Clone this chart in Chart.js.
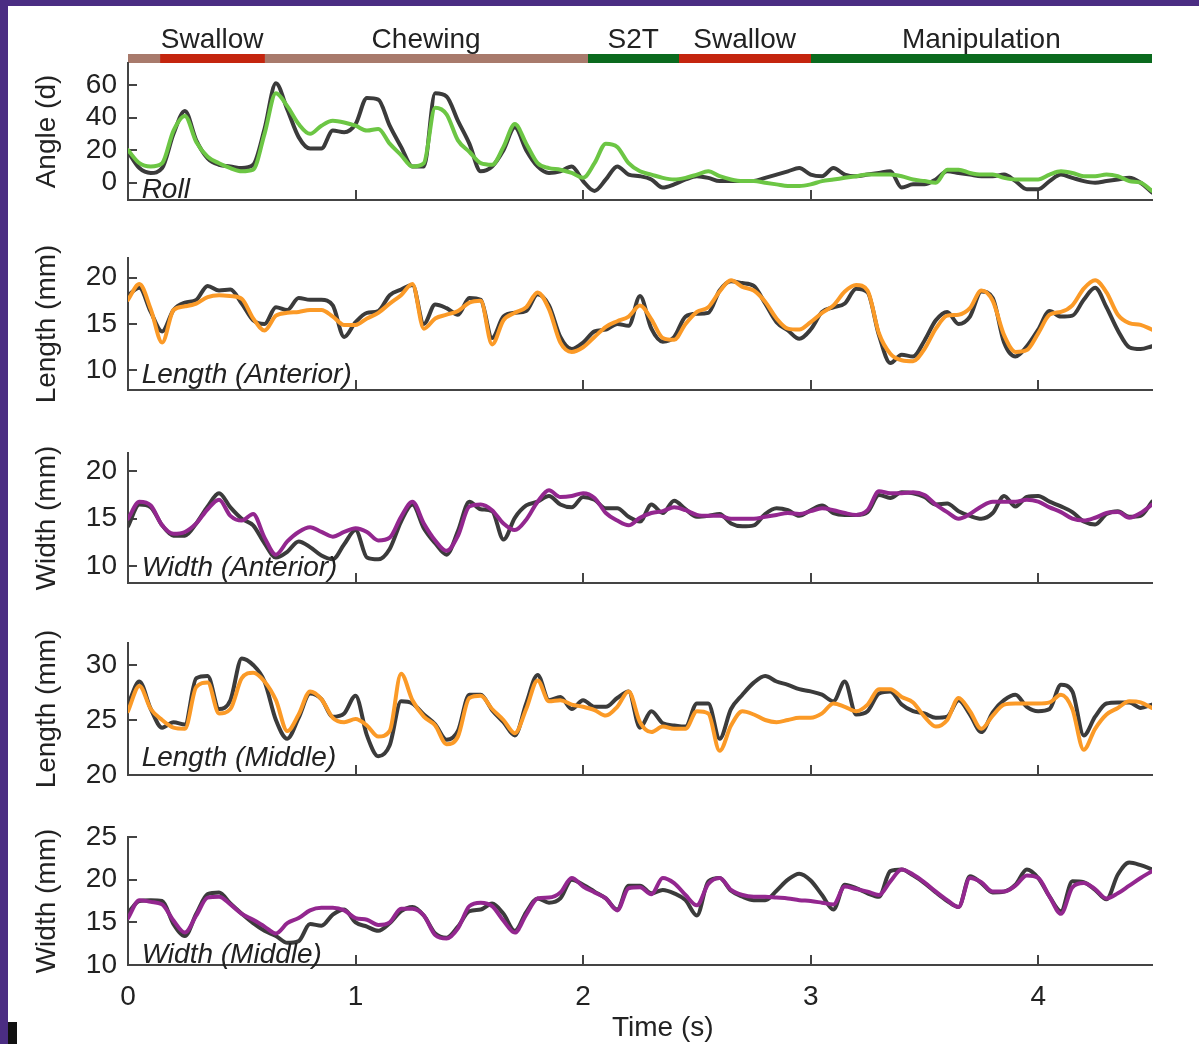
<!DOCTYPE html>
<html>
<head>
<meta charset="utf-8">
<script src="https://cdn.jsdelivr.net/npm/chart.js@4.4.1/dist/chart.umd.min.js"></script>
<style>
  html, body { margin: 0; padding: 0; background: #fff; }
  body { width: 1199px; height: 1044px; position: relative; overflow: hidden; }
  canvas { position: absolute; left: 0; }
  .frame { position: absolute; background: #4b2d83; }
</style>
</head>
<body>
<canvas id="phases" width="1199" height="70" style="top:0"></canvas>
<canvas id="roll"></canvas>
<canvas id="lenAnt"></canvas>
<canvas id="widAnt"></canvas>
<canvas id="lenMid"></canvas>
<canvas id="widMid"></canvas>
<div class="frame" style="left:0;top:0;width:1199px;height:6px"></div>
<div class="frame" style="left:0;top:0;width:8px;height:1044px"></div>
<div style="position:absolute;left:8px;top:1022px;width:9px;height:22px;background:#111"></div>
<script>
Chart.defaults.font.family = "'Liberation Sans', Arial, sans-serif";
Chart.defaults.font.size = 28;
Chart.defaults.color = '#222';

// time axis (s), one sample every 0.05 s
const times = Array.from({length: 91}, (_, i) => Math.round(i * 5) / 100);
const timeTicks = [0, 1, 2, 3, 4];

// feeding phases on top
const phaseNames = ['', 'Swallow', 'Chewing', 'S2T', 'Swallow', 'Manipulation'];
const phaseStart = [0, 0.14, 0.60, 2.02, 2.42, 3.00];
const phaseEnd = [0.14, 0.60, 2.02, 2.42, 3.00, 4.50];

// Roll angle (d)
const rollTicks = [0, 20, 40, 60];
const rollRef = [
  19, 9, 6, 9, 30, 44, 26, 15, 11, 10,
  9, 11, 33, 61, 45, 28, 21, 21, 32, 31,
  36, 52, 51, 35, 22, 10, 10, 55, 53, 38,
  24, 7, 10, 20, 34, 20, 10, 6, 7, 10,
  1, -5, 2, 10, 5, 4, 2, -3, -1, 2,
  4, 3, 1, 1, 1, 1, 3, 5, 7, 9,
  5, 4, 9, 5, 4, 5, 6, 7, -3, -1,
  -1, 2, 7, 6, 5, 4, 4, 5, 1, -4,
  -4, 1, 5, 3, 1, 0, 1, 2, 3, 0,
  -6];
const rollEst = [
  20, 12, 10, 12, 32, 41, 25, 16, 12, 9,
  7, 8, 30, 55, 47, 36, 30, 35, 38, 37,
  35, 32, 33, 24, 17, 10, 12, 46, 42, 26,
  19, 12, 11, 22, 36, 24, 12, 9, 8, 6,
  3, 12, 24, 22, 12, 7, 5, 3, 2, 3,
  5, 7, 4, 2, 1, 1, 0, -1, -2, -2,
  -1, 1, 2, 3, 4, 5, 5, 5, 4, 2,
  1, 0, 8, 8, 6, 5, 5, 3, 2, 2,
  2, 5, 7, 6, 4, 4, 5, 4, 1, 0,
  -5];

// Length (Anterior), mm
const lenAntTicks = [10, 15, 20];
const lenAntRef = [
  18.1, 18.9, 16.3, 14.2, 16.5, 17.3, 17.6, 19.1, 18.6, 18.7,
  17.2, 15.4, 15.0, 16.8, 16.5, 17.8, 17.6, 17.6, 17.0, 13.6,
  15.2, 16.2, 16.4, 18.1, 18.7, 19.2, 15.0, 17.1, 16.7, 16.0,
  17.8, 17.6, 13.5, 15.8, 16.2, 16.4, 18.2, 17.0, 13.6, 12.3,
  13.0, 14.2, 14.4, 15.0, 14.8, 18.0, 14.5, 13.1, 13.6, 15.8,
  16.1, 16.2, 18.6, 19.6, 19.4, 19.1, 17.2, 15.2, 14.3, 13.4,
  14.4, 16.3, 16.8, 17.2, 18.8, 18.4, 13.8, 10.8, 11.7, 11.5,
  13.2, 15.4, 16.3, 15.0, 15.8, 18.5, 17.8, 13.0, 11.5, 12.6,
  14.4, 16.4, 15.8, 15.9, 17.6, 18.9, 16.8, 14.3, 12.5, 12.3,
  12.6];
const lenAntEst = [
  17.6, 19.3, 16.6, 13.0, 16.5, 16.9, 17.2, 17.9, 18.1, 18.0,
  17.7, 15.6, 14.3, 15.9, 16.2, 16.3, 16.5, 16.5, 15.8, 14.9,
  14.9, 15.6, 16.2, 17.2, 18.1, 19.3, 14.5, 15.6, 16.0, 16.4,
  17.3, 17.5, 12.8, 15.4, 16.2, 16.8, 18.4, 16.6, 13.0, 12.0,
  12.5, 13.6, 14.7, 15.3, 15.8, 17.0, 15.5, 13.5, 13.3, 15.0,
  16.3, 16.8, 18.5, 19.7, 19.0, 18.6, 17.4, 15.6, 14.5, 14.4,
  15.2, 16.2, 17.0, 18.5, 19.2, 18.6, 14.0, 11.8, 11.1, 11.0,
  12.3, 14.5, 15.9, 16.0, 16.7, 18.6, 17.5, 13.8, 12.0, 12.2,
  14.0, 16.0, 16.3, 17.0, 18.8, 19.7, 18.4, 16.0, 15.1, 14.9,
  14.4];

// Width (Anterior), mm
const widAntTicks = [10, 15, 20];
const widAntRef = [
  14.2, 16.5, 16.2, 14.3, 13.2, 13.2, 14.5, 16.3, 17.7, 16.2,
  15.0, 14.3, 12.4, 10.9, 11.5, 12.6, 12.0, 11.1, 10.7, 12.3,
  13.8, 10.9, 10.7, 11.8, 14.7, 16.5, 14.0, 12.4, 11.2, 13.7,
  16.8, 16.0, 15.8, 12.8, 15.1, 16.4, 16.8, 17.4, 16.5, 16.2,
  17.3, 17.0, 16.1, 16.1, 15.2, 14.7, 16.5, 15.6, 16.9, 16.0,
  15.2, 15.3, 15.5, 14.5, 14.2, 14.3, 15.5, 16.1, 15.9, 15.3,
  15.9, 16.4, 15.6, 15.4, 15.4, 15.7, 17.5, 17.2, 17.8, 17.7,
  17.3, 16.5, 16.6, 15.8, 15.3, 15.0, 15.6, 17.4, 16.3, 17.3,
  17.4, 16.8, 16.3, 15.7, 14.7, 14.4, 15.5, 15.8, 15.2, 15.3,
  16.8];
const widAntEst = [
  15.0, 16.8, 16.4, 14.3, 13.4, 13.6, 14.5, 16.0, 17.0, 15.3,
  14.8, 15.5, 13.0, 11.2, 12.6, 13.6, 14.1, 13.6, 13.1, 13.6,
  14.0, 13.6, 12.7, 13.0, 15.2, 16.8, 14.5, 12.7, 11.6, 13.2,
  16.3, 16.5, 15.9, 14.5, 13.8, 14.9, 16.8, 18.0, 17.3, 17.4,
  17.7, 17.2, 15.6, 14.8, 14.3, 15.1, 15.6, 15.8, 16.2, 15.9,
  15.4, 15.3, 15.3, 15.0, 15.0, 15.0, 15.2, 15.4, 15.6, 15.5,
  15.8, 16.1, 15.9, 15.6, 15.4, 15.9, 17.9, 17.7, 17.7, 17.8,
  17.5, 16.5, 15.7, 15.0, 15.5, 16.3, 16.8, 16.8, 16.8, 17.0,
  16.8, 16.2, 15.7, 15.0, 14.8, 15.1, 15.6, 15.7, 15.1, 15.6,
  16.5];

// Length (Middle), mm
const lenMidTicks = [20, 25, 30];
const lenMidRef = [
  26.4, 28.5, 26.0, 24.3, 24.8, 24.6, 28.8, 29.0, 26.0, 26.8,
  30.6, 30.0, 28.5, 25.0, 23.3, 25.2, 27.4, 26.9, 25.3, 25.6,
  27.2, 23.6, 21.7, 22.7, 26.7, 26.5, 25.5, 24.6, 23.2, 24.0,
  27.3, 27.3, 25.9, 24.8, 23.6, 26.5, 29.1, 26.8, 27.1, 26.0,
  26.8, 26.2, 26.2, 27.0, 27.6, 24.3, 25.8, 24.7, 24.5, 24.4,
  26.5, 26.5, 23.3, 26.0, 27.3, 28.4, 29.0, 28.5, 28.2, 27.8,
  27.6, 27.3, 26.7, 28.5, 25.5, 25.8, 27.4, 27.6, 26.4, 25.8,
  25.6, 25.2, 25.3, 26.8, 25.5, 23.9, 25.7, 26.8, 27.3, 26.2,
  25.8, 26.0, 28.2, 27.6, 23.6, 25.3, 26.5, 26.6, 26.6, 26.1,
  26.4];
const lenMidEst = [
  25.8, 28.1, 26.0, 25.0, 24.3, 24.2, 28.0, 28.4, 25.6, 26.0,
  28.8, 29.3, 28.5, 26.8, 24.0, 25.5, 27.6, 26.9, 25.2, 24.8,
  25.1, 24.5, 23.5, 24.0, 29.2, 26.8, 25.3, 24.5, 22.8, 23.5,
  27.0, 27.2, 26.0, 25.0, 23.8, 26.0, 28.6, 26.7, 26.8, 26.4,
  26.2, 25.9, 25.4, 26.2, 27.6, 24.8, 23.9, 24.4, 24.2, 24.2,
  25.8, 25.6, 22.2, 24.5, 25.8, 25.5, 25.0, 24.8, 25.0, 25.2,
  25.2, 25.6, 26.5, 26.2, 25.8, 26.4, 27.8, 27.8, 27.1, 26.6,
  25.3, 24.4, 25.0, 27.0, 25.8, 24.2, 25.4, 26.4, 26.5, 26.5,
  26.5, 26.6, 27.3, 26.0, 22.3, 24.2, 25.5, 26.1, 26.7, 26.6,
  26.1];

// Width (Middle), mm
const widMidTicks = [10, 15, 20, 25];
const widMidRef = [
  16.1, 17.5, 17.6, 17.5, 14.8, 13.4, 16.0, 18.3, 18.5, 17.2,
  16.0, 14.9, 14.0, 13.4, 12.6, 12.8, 14.8, 14.6, 15.9, 16.5,
  15.0, 14.5, 14.0, 14.9, 16.3, 16.8, 15.8, 13.7, 13.2, 14.5,
  16.3, 16.5, 17.2, 16.0, 14.0, 16.2, 17.8, 17.3, 17.8, 20.0,
  19.4, 18.6, 17.8, 16.5, 19.3, 19.3, 18.4, 18.8, 18.4, 17.6,
  15.8, 19.8, 20.2, 18.7, 18.0, 17.6, 17.6, 18.7, 20.0, 20.7,
  19.9, 18.2, 16.5, 19.4, 19.0, 18.4, 18.0, 21.0, 21.2, 20.5,
  19.6, 18.5, 17.5, 16.8, 20.4, 19.6, 18.5, 18.6, 19.4, 21.2,
  20.2, 18.0, 16.3, 19.8, 19.7, 18.8, 17.7, 20.6, 22.0, 21.7,
  21.2];
const widMidEst = [
  15.5, 17.6, 17.4, 17.1, 15.2, 13.8, 15.8, 17.9, 18.0, 17.1,
  16.0, 15.3, 14.5, 13.7, 14.9, 15.5, 16.4, 16.7, 16.7, 16.4,
  15.5, 15.3, 14.7, 15.0, 16.6, 16.6, 15.8, 13.5, 13.1, 14.3,
  16.9, 17.3, 16.9, 15.2, 13.8, 15.9, 17.8, 17.9, 18.5, 20.2,
  19.2, 18.5, 17.8, 16.4, 19.0, 19.1, 18.3, 20.2, 19.6, 18.2,
  17.0, 19.5, 20.2, 18.8, 18.2, 18.0, 18.0, 17.9, 17.8, 17.6,
  17.5, 17.3, 17.1, 19.2, 18.9, 18.6, 18.2, 19.8, 21.2, 20.6,
  19.7, 18.6, 17.6, 16.8, 20.2, 19.7, 18.6, 18.6, 19.3, 20.5,
  20.2, 18.0, 16.0, 19.1, 19.6, 18.9, 17.8, 18.4, 19.3, 20.2,
  21.0];

const PAGE_W = 1199, PAGE_H = 1044;
const PLOT_LEFT = 128, PLOT_RIGHT = 1152;
const AXIS_COLOR = '#444';

// phase names above the coloured bar
const phaseLabelPlugin = {
  id: 'phaseLabels',
  afterDatasetsDraw(chart) {
    const {ctx, chartArea, scales} = chart;
    ctx.save();
    ctx.font = "28px 'Liberation Sans', Arial, sans-serif";
    ctx.fillStyle = '#222';
    ctx.textAlign = 'center';
    ctx.textBaseline = 'alphabetic';
    phaseNames.forEach((name, i) => {
      if (!name) return;
      const x = scales.x.getPixelForValue((phaseStart[i] + phaseEnd[i]) / 2);
      ctx.fillText(name, x, chartArea.top - 6);
    });
    ctx.restore();
  }
};

new Chart(document.getElementById('phases'), {
  type: 'bar',
  data: {
    labels: ['phase'],
    datasets: phaseNames.map((name, i) => ({
      label: name || 'start',
      data: [[phaseStart[i], phaseEnd[i]]],
      backgroundColor: ['#a87a6c', '#c4250e', '#a87a6c', '#0b6a1e', '#c4250e', '#0b6a1e'][i],
      borderWidth: 0,
      grouped: false,
      barPercentage: 1,
      categoryPercentage: 1
    }))
  },
  options: {
    indexAxis: 'y',
    responsive: false,
    animation: false,
    events: [],
    layout: { padding: { top: 54, bottom: 7, left: PLOT_LEFT, right: PAGE_W - PLOT_RIGHT } },
    plugins: { legend: { display: false }, tooltip: { enabled: false } },
    scales: {
      x: { type: 'linear', min: 0, max: 4.5, display: false },
      y: { display: false }
    }
  },
  plugins: [phaseLabelPlugin]
});

// italic panel name in the lower left corner, and the time title under the last panel
const notePlugin = {
  id: 'panelNote',
  afterDatasetsDraw(chart, args, opts) {
    const {ctx, chartArea, scales} = chart;
    ctx.save();
    ctx.fillStyle = '#222';
    ctx.font = "italic 28px 'Liberation Sans', Arial, sans-serif";
    ctx.textAlign = 'left';
    ctx.textBaseline = 'alphabetic';
    ctx.fillText(opts.text, scales.x.getPixelForValue(0.06), chartArea.bottom - opts.lift);
    if (opts.xTitle) {
      ctx.font = "28px 'Liberation Sans', Arial, sans-serif";
      ctx.textAlign = 'center';
      ctx.textBaseline = 'middle';
      ctx.fillText(opts.xTitle, scales.x.getPixelForValue(2.35), chartArea.bottom + 63);
    }
    ctx.restore();
  }
};

function pts(vals) {
  return vals.map((v, i) => ({x: times[i], y: v}));
}

function panel(id, o) {
  const last = !!o.xTitle;
  const pad = 45;
  const canvas = document.getElementById(id);
  canvas.width = PAGE_W;
  canvas.height = last ? PAGE_H - (o.top - pad) : (o.bottom - o.top) + 2 * pad;
  canvas.style.top = (o.top - pad) + 'px';

  const line = { pointRadius: 0, borderWidth: 4, fill: false, cubicInterpolationMode: 'monotone',
                 borderJoinStyle: 'round', borderCapStyle: 'round' };

  return new Chart(canvas, {
    type: 'line',
    data: {
      datasets: [
        Object.assign({ label: 'estimate', data: pts(o.est), borderColor: o.color }, line),
        Object.assign({ label: 'reference', data: pts(o.ref), borderColor: '#3b3b3b' }, line)
      ]
    },
    options: {
      responsive: false,
      animation: false,
      events: [],
      layout: { padding: { top: pad, bottom: last ? 0 : pad, left: 0, right: PAGE_W - PLOT_RIGHT } },
      plugins: {
        legend: { display: false },
        tooltip: { enabled: false },
        panelNote: { text: o.note, lift: o.lift, xTitle: o.xTitle }
      },
      scales: {
        x: {
          type: 'linear', min: 0, max: 4.5,
          afterBuildTicks: s => { s.ticks = timeTicks.map(v => ({value: v})); },
          afterFit: s => { s.height = last ? PAGE_H - o.bottom : 0; s.paddingLeft = 0; s.paddingRight = 0; },
          ticks: { display: last, padding: 25, maxRotation: 0, autoSkip: false },
          grid: { drawOnChartArea: false, tickLength: -10, color: AXIS_COLOR, lineWidth: 2 },
          border: { color: AXIS_COLOR, width: 2 }
        },
        y: {
          min: o.min, max: o.max,
          afterBuildTicks: s => { s.ticks = o.ticks.map(v => ({value: v})); },
          afterFit: s => { s.width = PLOT_LEFT; s.paddingTop = 0; s.paddingBottom = 0; },
          ticks: { padding: 20, autoSkip: false },
          grid: { drawOnChartArea: false, tickLength: -9, color: AXIS_COLOR, lineWidth: 2 },
          border: { color: AXIS_COLOR, width: 2 },
          title: { display: true, text: o.title, padding: { top: 30, bottom: 0 } }
        }
      }
    },
    plugins: [notePlugin]
  });
}

panel('roll', { top: 63, bottom: 200, min: -10.6, max: 73.5, ticks: rollTicks,
  ref: rollRef, est: rollEst, color: '#6cc644', title: 'Angle (d)', note: 'Roll', lift: 2 });
panel('lenAnt', { top: 258, bottom: 390, min: 7.9, max: 22.1, ticks: lenAntTicks,
  ref: lenAntRef, est: lenAntEst, color: '#fb9a27', title: 'Length (mm)', note: 'Length (Anterior)', lift: 7 });
panel('widAnt', { top: 453, bottom: 583, min: 8.2, max: 21.95, ticks: widAntTicks,
  ref: widAntRef, est: widAntEst, color: '#93278f', title: 'Width (mm)', note: 'Width (Anterior)', lift: 7 });
panel('lenMid', { top: 643, bottom: 775, min: 20, max: 32, ticks: lenMidTicks,
  ref: lenMidRef, est: lenMidEst, color: '#fb9a27', title: 'Length (mm)', note: 'Length (Middle)', lift: 9 });
panel('widMid', { top: 837, bottom: 965, min: 10, max: 25, ticks: widMidTicks,
  ref: widMidRef, est: widMidEst, color: '#93278f', title: 'Width (mm)', note: 'Width (Middle)', lift: 2,
  xTitle: 'Time (s)' });
</script>
</body>
</html>
